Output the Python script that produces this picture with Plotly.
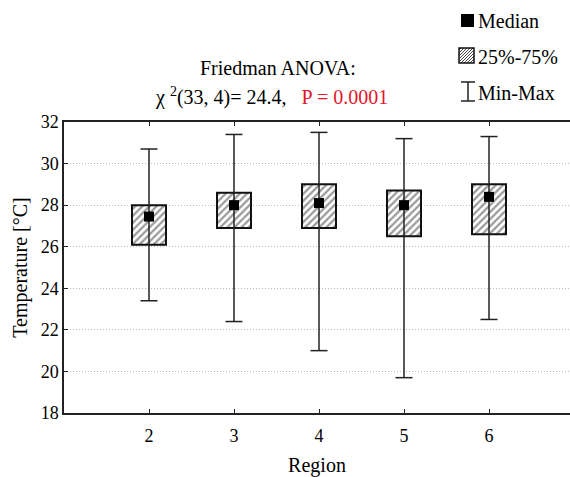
import plotly.graph_objects as go

regions = [2, 3, 4, 5, 6]
q1 = [26.1, 26.9, 26.9, 26.5, 26.6]
q3 = [28.0, 28.6, 29.0, 28.7, 29.0]
medians = [27.45, 28.0, 28.1, 28.0, 28.4]
mins = [23.4, 22.4, 21.0, 19.7, 22.5]
maxs = [30.7, 31.4, 31.5, 31.2, 31.3]
yticks = [18, 20, 22, 24, 26, 28, 30, 32]

W, H = 570, 477
ML, MR, MT, MB = 64, 0, 122, 64
FONT = "'Liberation Serif', 'DejaVu Serif', serif"
BW = 0.4
CAP = 0.1

fig = go.Figure()

# whiskers
wx, wy = [], []
for r, lo, hi in zip(regions, mins, maxs):
    wx += [r, r, None, r - CAP, r + CAP, None, r - CAP, r + CAP, None]
    wy += [lo, hi, None, lo, lo, None, hi, hi, None]
fig.add_trace(go.Scatter(x=wx, y=wy, mode="lines",
                         line=dict(color="#222", width=1.5), showlegend=False, hoverinfo="skip"))

# boxes
fig.add_trace(go.Bar(x=regions, y=[b - a for a, b in zip(q1, q3)], base=q1, width=BW,
                     marker=dict(color="white", line=dict(color="#111", width=2),
                                 pattern=dict(shape="/", fgcolor="#333", bgcolor="white", size=5, solidity=0.45)),
                     showlegend=False))

# medians
fig.add_trace(go.Scatter(x=regions, y=medians, mode="markers",
                         marker=dict(symbol="square", size=10, color="black"), showlegend=False))

pw = W - ML - MR
ph = H - MT - MB
def px(x):
    return (x - ML) / pw
def py(y):
    return (H - MB - y) / ph

shapes = []
# legend: median
shapes.append(dict(type="rect", xref="paper", yref="paper", x0=px(461), x1=px(474), y0=py(27), y1=py(14),
                   fillcolor="black", line=dict(width=0)))
# legend: hatched box
x0, y0, s = 459, 48, 15
for k in range(-s + 2, s, 3):
    xa, ya = x0 + k, y0 + s
    xb, yb = x0 + k + s, y0
    if xa < x0:
        ya = ya - (x0 - xa); xa = x0
    if xb > x0 + s:
        yb = yb + (xb - (x0 + s)); xb = x0 + s
    if xb > xa:
        shapes.append(dict(type="line", xref="paper", yref="paper", x0=px(xa), y0=py(ya), x1=px(xb), y1=py(yb),
                           line=dict(color="#444", width=1)))
shapes.append(dict(type="rect", xref="paper", yref="paper", x0=px(x0), x1=px(x0 + s), y0=py(y0 + s), y1=py(y0),
                   line=dict(color="#111", width=1.5)))
# legend: min-max
shapes.append(dict(type="line", xref="paper", yref="paper", x0=px(468), x1=px(468), y0=py(101), y1=py(82),
                   line=dict(color="#222", width=1.5)))
for yy in (82, 101):
    shapes.append(dict(type="line", xref="paper", yref="paper", x0=px(461), x1=px(475), y0=py(yy), y1=py(yy),
                       line=dict(color="#222", width=1.5)))

def ann(text, x, y, anchor="left", size=20):
    return dict(text=text, x=px(x), y=py(y), xref="paper", yref="paper", xanchor=anchor, yanchor="middle",
                showarrow=False, font=dict(size=size, color="black", family=FONT))

annotations = [
    ann("Median", 476, 21),
    ann("25%-75%", 476, 57),
    ann("Min-Max", 476, 93),
    ann("Friedman ANOVA:", 278, 68, "center"),
    ann("χ <sup>2</sup>(33, 4)= 24.4,&nbsp;&nbsp; <span style='color:#e3152b'>P = 0.0001</span>", 271, 96, "center"),
]

fig.update_layout(
    width=W, height=H, margin=dict(l=ML, r=MR, t=MT, b=MB, autoexpand=False),
    paper_bgcolor="white", plot_bgcolor="white",
    font=dict(family=FONT, size=16, color="black"),
    barmode="overlay", showlegend=False,
    shapes=shapes, annotations=annotations,
    xaxis=dict(range=[1, 1 + pw / 85.0], tickvals=regions, ticktext=[str(r) for r in regions],
               showline=True, linecolor="#222", linewidth=1.5, mirror="ticks", automargin=False,
               ticks="inside", ticklen=4, tickcolor="#222", showgrid=False, zeroline=False,
               ticklabelstandoff=6,
               title=dict(text="Region", font=dict(size=20, family=FONT), standoff=14),
               tickfont=dict(size=18, family=FONT)),
    yaxis=dict(range=[18, 32], tickvals=yticks, showline=True, linecolor="#222", linewidth=1.5,
               ticks="inside", ticklen=4, tickcolor="#222", automargin=False,
               showgrid=True, gridcolor="#bbb", griddash="1px,2px", gridwidth=1, zeroline=False,
               title=dict(text="Temperature [°C]", font=dict(size=20, family=FONT), standoff=8),
               tickfont=dict(size=18, family=FONT)),
)

fig.write_html("out.html", config={"displayModeBar": False})

with open("out.html", "r", encoding="utf-8") as f:
    html = f.read()
html = html.replace("<head>", "<head><style>html,body{margin:0;padding:0;overflow:hidden;}</style>", 1)
with open("out.html", "w", encoding="utf-8") as f:
    f.write(html)
